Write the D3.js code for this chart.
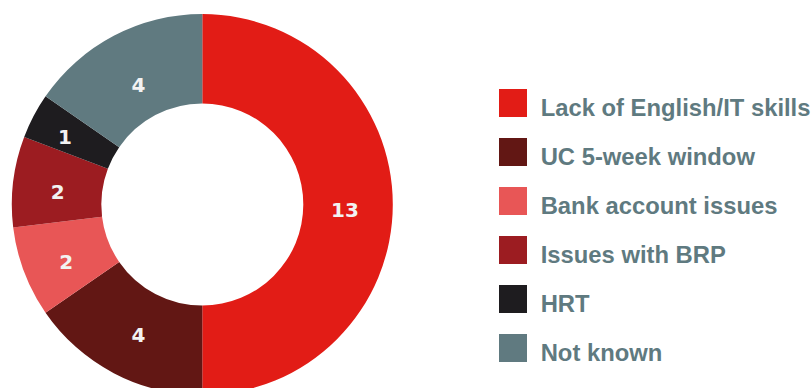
<!DOCTYPE html>
<html>
<head>
<meta charset="utf-8">
<script src="https://cdn.jsdelivr.net/npm/d3@7"></script>
<style>
  html, body { margin: 0; padding: 0; background: #fff; }
  svg { display: block; }
  text { font-family: "Liberation Sans", Arial, Helvetica, sans-serif; font-weight: bold; }
  text.value { font-family: "DejaVu Sans", sans-serif; }
</style>
</head>
<body>
<svg id="chart" width="812" height="388"></svg>
<script>
// Reasons reported, in the order they run clockwise from 12 o'clock
const categories = [
  "Lack of English/IT skills",
  "UC 5-week window",
  "Bank account issues",
  "Issues with BRP",
  "HRT",
  "Not known"
];
const values = [13, 4, 2, 2, 1, 4];
const colors = ["#e21c16", "#621714", "#e85656", "#9c1c21", "#1e1c1f", "#607a80"];

const svg = d3.select("#chart");

const cx = 202.3, cy = 204.5;
const outerR = 190.5, innerR = 101;

const color = d3.scaleOrdinal().domain(categories).range(colors);

const pie = d3.pie().value(d => d.value).sort(null);
const arcs = pie(categories.map((c, i) => ({ category: c, value: values[i] })));

const arc = d3.arc().innerRadius(innerR).outerRadius(outerR);

const g = svg.append("g").attr("transform", `translate(${cx},${cy})`);

g.selectAll("path.slice")
  .data(arcs)
  .join("path")
  .attr("class", "slice")
  .attr("d", arc)
  .attr("fill", d => color(d.data.category));

// Narrow slices get their value label pushed a little toward the rim
const labelRadius = d3.scaleLinear()
  .domain([0.24, 0.48, 0.97])
  .range([157, 147.5, 141])
  .clamp(true);

g.selectAll("text.value")
  .data(arcs)
  .join("text")
  .attr("class", "value")
  .attr("transform", d => {
    const a = (d.startAngle + d.endAngle) / 2;
    const r = labelRadius(d.endAngle - d.startAngle);
    return `translate(${r * Math.sin(a) + 1.7},${-r * Math.cos(a) + 5})`;
  })
  .attr("text-anchor", "middle")
  .attr("dy", "0.36em")
  .attr("fill", "#f2f2f2")
  .attr("font-size", 20)
  .text(d => d.data.value);

// Legend
const legend = svg.append("g").attr("transform", "translate(499,89)");
const rowStep = 49;

const rows = legend.selectAll("g.row")
  .data(categories)
  .join("g")
  .attr("class", "row")
  .attr("transform", (d, i) => `translate(0,${i * rowStep})`);

rows.append("rect")
  .attr("width", 28)
  .attr("height", 28)
  .attr("fill", d => color(d));

rows.append("text")
  .attr("x", 41.7)
  .attr("y", 27)
  .attr("fill", "#5f7a80")
  .attr("font-size", 23.8)
  .text(d => d);
</script>
</body>
</html>
